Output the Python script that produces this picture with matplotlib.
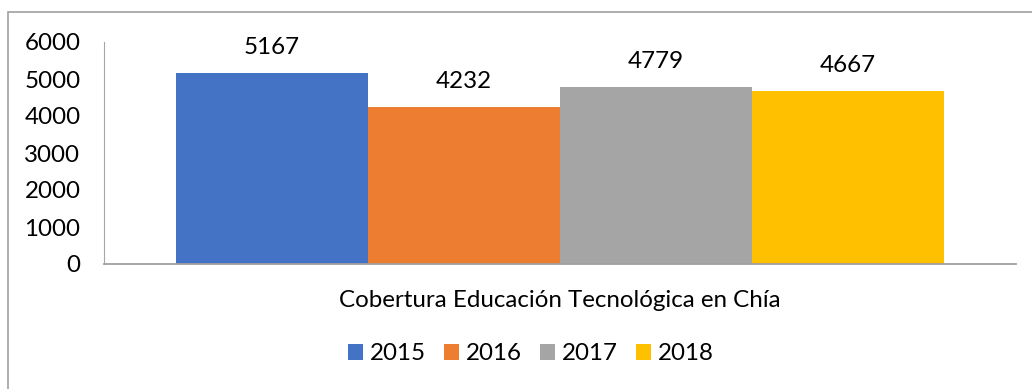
import matplotlib
matplotlib.use("Agg")
import matplotlib.pyplot as plt
from matplotlib.patches import Rectangle

# Coverage by year
years = ["2015", "2016", "2017", "2018"]
values = [5167, 4232, 4779, 4667]
category = "Cobertura Educación Tecnológica en Chía"
colors = ["#4472C4", "#ED7D31", "#A5A5A5", "#FFC000"]

plt.rcParams["font.family"] = ["Lato", "DejaVu Sans"]
fs = 17.4

fig = plt.figure(figsize=(10.32, 3.89), dpi=100)
ax = fig.add_axes([104 / 1032, 1 - 264 / 389, 912 / 1032, 222 / 389])

# chart border (clipped on right and bottom)
fig.patches.append(Rectangle((8 / 1032, -0.1), 1.1, 1 - 12 / 389 + 0.1,
                             transform=fig.transFigure, fill=False,
                             edgecolor="#a0a0a0", linewidth=1.2))

offsets = [-1.5, -0.5, 0.5, 1.5]
for off, yr, v, c in zip(offsets, years, values, colors):
    b = ax.bar(off, v, width=1.0, color=c, label=yr)
    ax.bar_label(b, labels=[str(v)], padding=11, fontsize=fs, color="#000000")

ax.set_xlim(-2.375, 2.375)
ax.set_ylim(0, 6000)
ax.set_yticks(range(0, 6001, 1000))
ax.tick_params(axis="y", length=0, pad=17, labelsize=fs)
ax.set_xticks([0])
ax.set_xticklabels([category])
ax.tick_params(axis="x", length=0, pad=19, labelsize=fs)

for s in ["top", "right"]:
    ax.spines[s].set_visible(False)
ax.spines["left"].set_color("#a6a6a6")
ax.spines["bottom"].set_color("#a0a0a0")
ax.spines["bottom"].set_linewidth(1.3)

fig.legend(loc="center", bbox_to_anchor=(531 / 1032, 1 - 354 / 389), ncol=4,
           frameon=False, fontsize=fs, handlelength=0.62, handleheight=0.62,
           handletextpad=0.29, columnspacing=0.75)

fig.savefig("out.png", dpi=100)
